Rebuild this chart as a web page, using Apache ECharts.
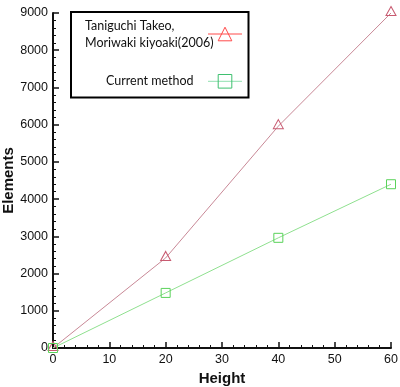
<!DOCTYPE html>
<html>
<head>
<meta charset="utf-8">
<script src="https://cdn.jsdelivr.net/npm/echarts@6/dist/echarts.min.js"></script>
<style>html,body{margin:0;padding:0;background:#fff}#c{width:400px;height:387px}</style>
</head>
<body>
<div id="c"></div>
<script>
const heights = [0, 20, 40, 60];
const taniguchi = [0, 2420, 5960, 9000];
const current = [0, 1480, 2960, 4400];
const seriesNames = ['Taniguchi Takeo,\nMoriwaki kiyoaki(2006)', 'Current method'];
const xTitle = 'Height';
const yTitle = 'Elements';

const chart = echarts.init(document.getElementById('c'), null, {renderer: 'canvas'});
const pair = (xs, ys) => xs.map((x, i) => [x, ys[i]]);
const tickFont = {fontFamily: 'Liberation Sans, Arial', fontSize: 12.5, color: '#111'};

chart.setOption({
  animation: false,
  backgroundColor: '#fff',
  grid: {left: 53, right: 9, top: 13, bottom: 39, containLabel: false, outerBoundsMode: 'none'},
  legend: {
    orient: 'vertical', left: 71, top: 12, align: 'right',
    padding: [7, 6, 9, 14],
    borderColor: '#000', borderWidth: 2,
    itemWidth: 34, itemHeight: 17, itemGap: 25,
    data: [
      {name: seriesNames[0],
       itemStyle: {color: 'transparent', borderColor: '#ff4a4a', borderWidth: 1},
       lineStyle: {color: '#ff4a4a', width: 1}},
      {name: seriesNames[1],
       itemStyle: {color: 'transparent', borderColor: '#3fc070', borderWidth: 1},
       lineStyle: {color: '#8fe0b0', width: 1}}
    ],
    formatter: function (n) {
      if (n === seriesNames[0]) return n.split('\n').map(s => '{a|' + s + '}').join('\n');
      return '{b|' + n + '}';
    },
    textStyle: {
      fontFamily: 'Lato', fontSize: 12.5, color: '#111',
      rich: {
        a: {width: 118, align: 'left', lineHeight: 17, fontFamily: 'Lato', fontSize: 12.5},
        b: {width: 97, align: 'left', padding: [0, 0, 0, 21], fontFamily: 'Lato', fontSize: 12.5}
      }
    }
  },
  xAxis: {
    type: 'value', min: 0, max: 60, interval: 10,
    name: xTitle, nameLocation: 'middle', nameGap: 17,
    nameTextStyle: {fontFamily: 'Liberation Sans, Arial', fontWeight: 'bold', fontSize: 15, color: '#111'},
    axisLine: {show: true, onZero: false, lineStyle: {color: '#111', width: 2}},
    axisTick: {show: true, inside: true, length: 6, lineStyle: {color: '#111', width: 1.5}},
    minorTick: {show: true, splitNumber: 5, length: 3, lineStyle: {color: '#111', width: 1}},
    splitLine: {show: false},
    axisLabel: Object.assign({margin: 5}, tickFont)
  },
  yAxis: {
    type: 'value', min: 0, max: 9000, interval: 1000,
    name: yTitle, nameLocation: 'middle', nameGap: 37, nameRotate: 90, nameMoveOverlap: false,
    nameTextStyle: {fontFamily: 'Liberation Sans, Arial', fontWeight: 'bold', fontSize: 15, color: '#111'},
    axisLine: {show: true, onZero: false, lineStyle: {color: '#111', width: 2}},
    axisTick: {show: true, inside: true, length: 6, lineStyle: {color: '#111', width: 1.5}},
    minorTick: {show: true, splitNumber: 5, length: 3, lineStyle: {color: '#111', width: 1}},
    splitLine: {show: false},
    axisLabel: Object.assign({margin: 5, formatter: v => String(v)}, tickFont)
  },
  series: [
    {
      name: seriesNames[0], type: 'line', data: pair(heights, taniguchi),
      symbol: 'triangle', symbolSize: [10, 9], symbolOffset: [0, -2],
      lineStyle: {color: '#c88896', width: 1},
      itemStyle: {color: 'transparent', borderColor: '#c85a70', borderWidth: 1},
      z: 3
    },
    {
      name: seriesNames[1], type: 'line', data: pair(heights, current),
      symbol: 'rect', symbolSize: 9,
      lineStyle: {color: '#8fe08f', width: 1},
      itemStyle: {color: 'transparent', borderColor: '#5ad25a', borderWidth: 1},
      z: 3
    }
  ]
});
</script>
</body>
</html>
